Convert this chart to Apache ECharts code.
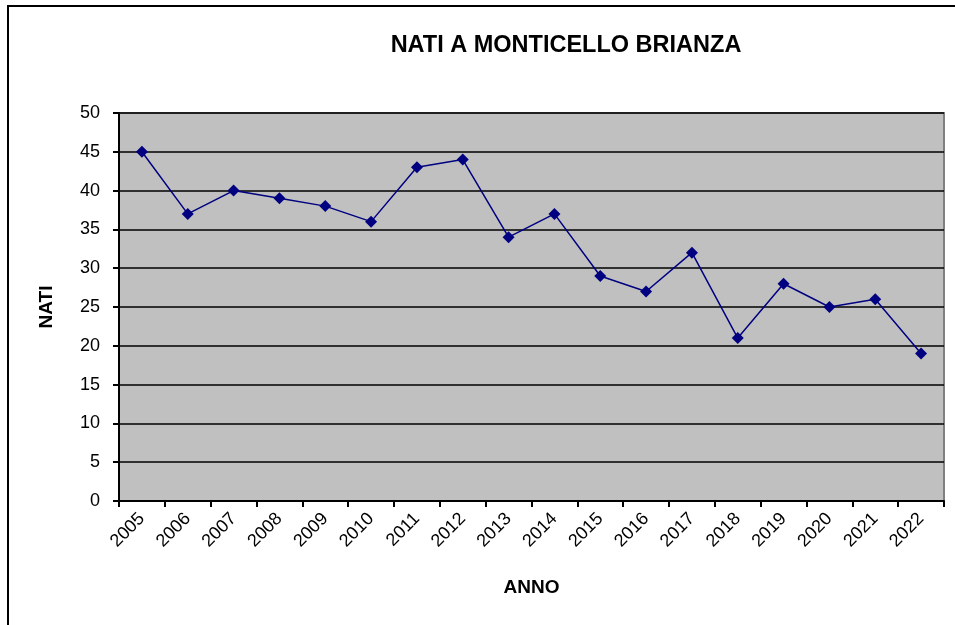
<!DOCTYPE html>
<html>
<head>
<meta charset="utf-8">
<script src="https://cdn.jsdelivr.net/npm/echarts@6/dist/echarts.min.js"></script>
<style>
html,body{margin:0;padding:0;background:#fff;}
#chart{width:955px;height:625px;}
</style>
</head>
<body>
<div id="chart"></div>
<script>
const years = ['2005','2006','2007','2008','2009','2010','2011','2012','2013','2014','2015','2016','2017','2018','2019','2020','2021','2022'];
const nati = [45,37,40,39,38,36,43,44,34,37,29,27,32,21,28,25,26,19];
const yTicks = {min:0, max:50, interval:5};

const FONT = '"Liberation Sans", Arial, sans-serif';
const chart = echarts.init(document.getElementById('chart'), null, {renderer:'canvas'});
chart.setOption({
  animation:false,
  backgroundColor:'#ffffff',
  graphic:[{
    type:'rect', shape:{x:8, y:6, width:1000, height:700},
    style:{fill:'none', stroke:'#000', lineWidth:2}, z:-1
  }],
  title:{
    text:'NATI A MONTICELLO BRIANZA',
    left:561, top:29, textAlign:'center',
    textStyle:{fontFamily:FONT, fontWeight:'bold', fontSize:23.5, color:'#000'}
  },
  grid:{
    left:119, top:113, right:11, bottom:124,
    show:true, backgroundColor:'#c0c0c0', borderColor:'#808080', borderWidth:2
  },
  xAxis:{
    type:'category', data:years, boundaryGap:true,
    name:'ANNO', nameLocation:'middle', nameGap:77,
    nameTextStyle:{fontFamily:FONT, fontWeight:'bold', fontSize:19, color:'#000'},
    axisLine:{lineStyle:{color:'#000', width:2}},
    axisTick:{show:true, alignWithLabel:false, length:6, lineStyle:{color:'#000', width:2}},
    axisLabel:{rotate:45, margin:15, fontFamily:FONT, fontSize:18, color:'#000', interval:0},
    splitLine:{show:false}
  },
  yAxis:{
    type:'value', min:yTicks.min, max:yTicks.max, interval:yTicks.interval,
    name:'NATI', nameLocation:'middle', nameGap:63, nameRotate:90,
    nameTextStyle:{fontFamily:FONT, fontWeight:'bold', fontSize:19, color:'#000'},
    axisLine:{show:true, lineStyle:{color:'#000', width:2}},
    axisTick:{show:true, inside:false, length:6, lineStyle:{color:'#000', width:2}},
    axisLabel:{margin:19, fontFamily:FONT, fontSize:18, color:'#000'},
    splitLine:{show:true, lineStyle:{color:'#000', width:1.5}}
  },
  series:[{
    type:'line', data:nati,
    symbol:'diamond', symbolSize:12,
    lineStyle:{color:'#000080', width:1.5},
    itemStyle:{color:'#000080'}
  }]
});
</script>
</body>
</html>
